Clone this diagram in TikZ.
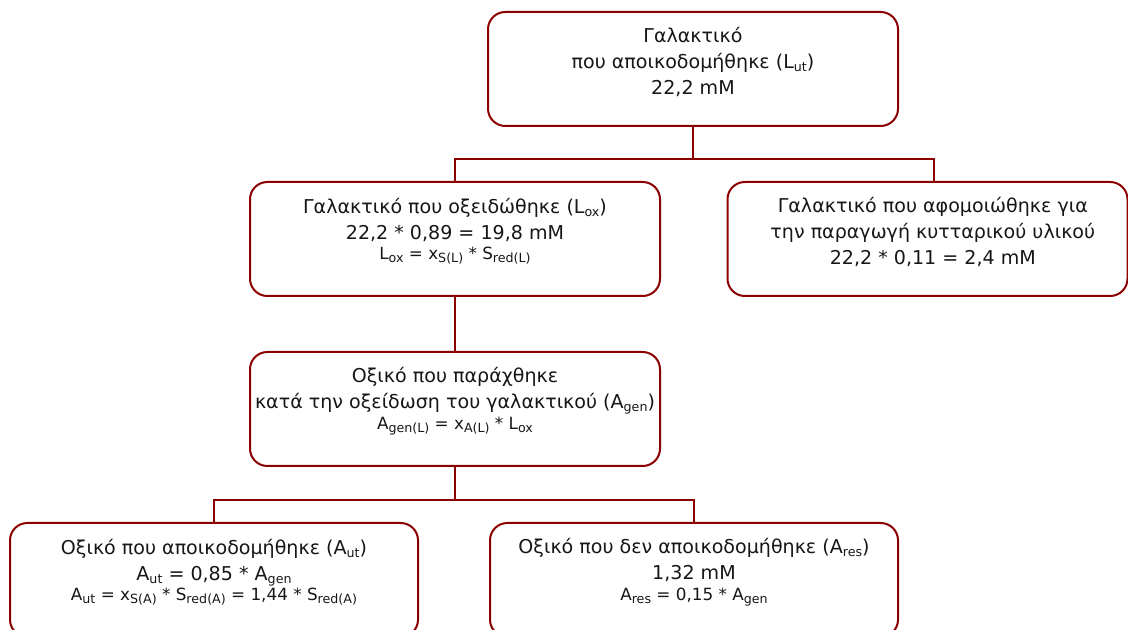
\documentclass[tikz,border=0pt]{standalone}
\usepackage{fontspec}
\setmainfont{DejaVu Sans}
\usepackage{xcolor}
\usepackage{tikz}
\definecolor{frame}{HTML}{8B0000}
\definecolor{ink}{HTML}{161616}
% small lowered index, as in L_ox
\newcommand{\sbs}[1]{\raisebox{-0.3ex}{\fontsize{9.5}{9.5}\selectfont #1}}
\newcommand{\eqline}{\fontsize{12.6}{14}\selectfont}
\tikzset{
  box/.style={draw=frame, line width=1.5pt, rounded corners=13pt,
    minimum width=307.5pt, minimum height=85.5pt, inner sep=0pt},
  link/.style={draw=frame, line width=1.9pt},
  txt/.style={align=center, text=ink, font=\fontsize{14.3}{19.5}\selectfont},
}

\begin{document}
\begin{tikzpicture}[x=0.75pt, y=-0.75pt]
  \useasboundingbox (0,0) rectangle (1128,630);

  % frames (pixel grid, y down)
  \node[box] (lut) at (693,69) {};
  \node[box] (lox) at (455,239) {};
  \node[box, minimum width=300pt] (lcell) at (927.5,239) {};
  \node[box] (agen) at (455,409) {};
  \node[box, minimum width=306pt] (aut) at (214,580) {};
  \node[box, minimum width=306pt] (ares) at (694,580) {};

  % texts
  \node[txt] (lut-t) at ([yshift=5pt]lut.center)
    {Γαλακτικό\\ που αποικοδομήθηκε (L\sbs{ut})\\ 22,2 mM};
  \node[txt] (lox-t) at ([yshift=6pt]lox.center)
    {Γαλακτικό που οξειδώθηκε (L\sbs{ox})\\ 22,2 * 0,89 = 19,8 mM\\[-4pt]
     {\eqline L\sbs{ox} = x\sbs{S(L)} * S\sbs{red(L)}}};
  \node[txt] (lcell-t) at ([xshift=4pt,yshift=5pt]lcell.center)
    {Γαλακτικό που αφομοιώθηκε για\\ την παραγωγή κυτταρικού υλικού\\ 22,2 * 0,11 = 2,4 mM};
  \node[txt] (agen-t) at ([yshift=6pt]agen.center)
    {Οξικό που παράχθηκε\\ κατά την οξείδωση του γαλακτικού (A\sbs{gen})\\[-4pt]
     {\eqline A\sbs{gen(L)} = x\sbs{A(L)} * L\sbs{ox}}};
  \node[txt] (aut-t) at ([yshift=6pt]aut.center)
    {Οξικό που αποικοδομήθηκε (A\sbs{ut})\\ A\sbs{ut} = 0,85 * A\sbs{gen}\\[-4pt]
     {\eqline A\sbs{ut} = x\sbs{S(A)} * S\sbs{red(A)} = 1,44 * S\sbs{red(A)}}};
  \node[txt] (ares-t) at ([yshift=6pt]ares.center)
    {Οξικό που δεν αποικοδομήθηκε (A\sbs{res})\\ 1,32 mM\\[-4pt]
     {\eqline A\sbs{res} = 0,15 * A\sbs{gen}}};

  % tree links
  \draw[link] (lut.south) -- ++(0,32) -| (lox.north);
  \draw[link] (lut.south) -- ++(0,32) -| ([xshift=5pt]lcell.north);
  \draw[link] (lox.south) -- (agen.north);
  \draw[link] (agen.south) -- ++(0,33) -| (aut.north);
  \draw[link] (agen.south) -- ++(0,33) -| (ares.north);
\end{tikzpicture}
\end{document}
